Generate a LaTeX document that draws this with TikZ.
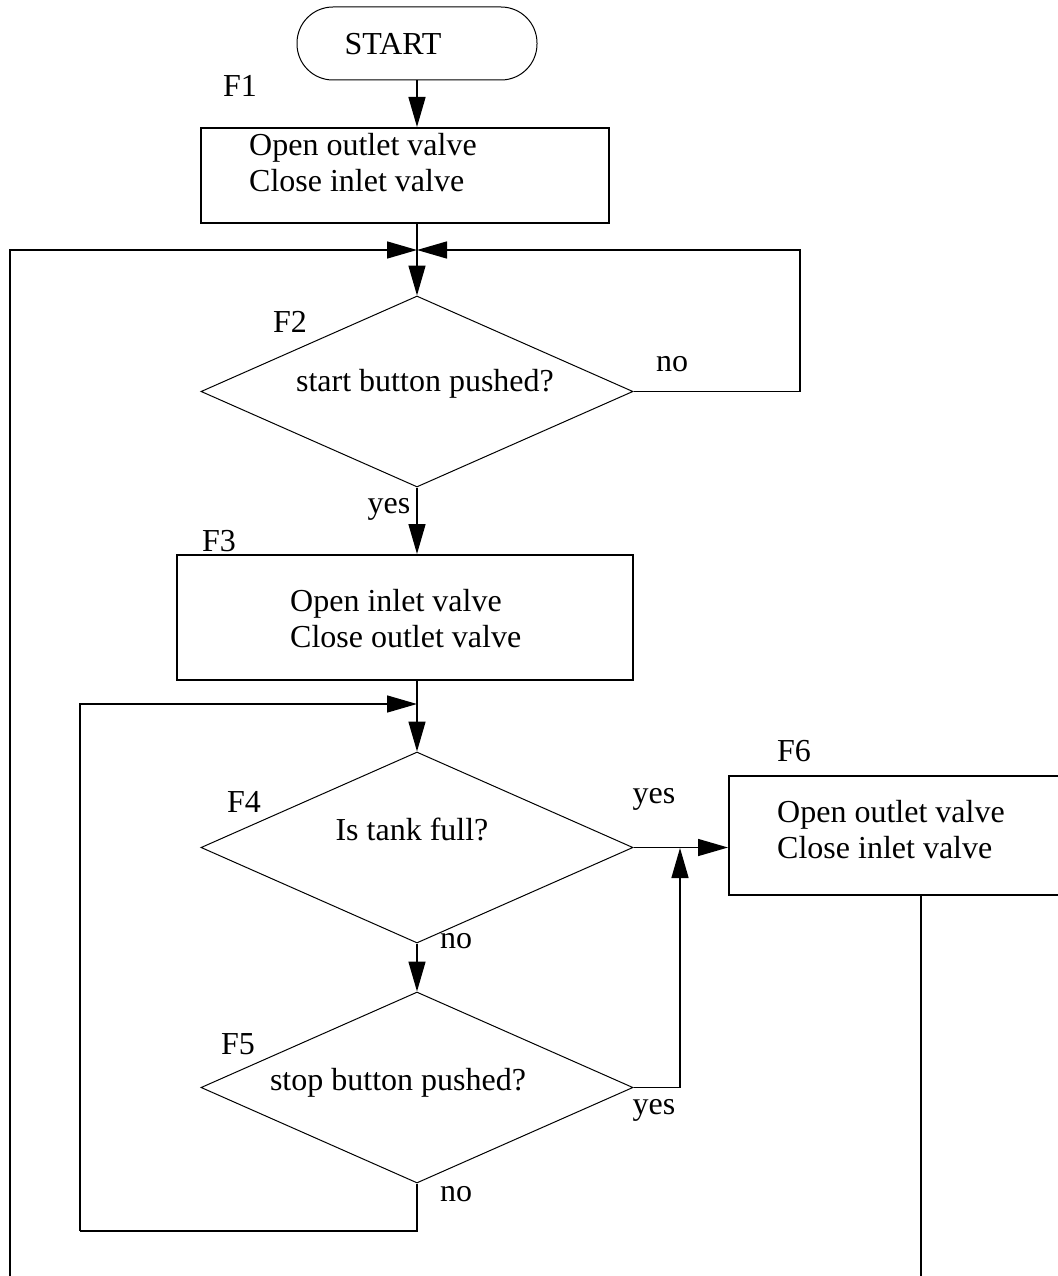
\documentclass[tikz,border=0pt]{standalone}
\usepackage{fontspec}
\setmainfont{Liberation Serif}
\usetikzlibrary{shapes.geometric,arrows.meta}
\begin{document}
\begin{tikzpicture}[x=1pt,y=-1pt,
  every node/.style={font=\fontsize{32}{36}\selectfont,inner sep=0pt},
  box/.style={draw,line width=2pt,rectangle},
  cond/.style={draw,line width=1pt,diamond,minimum width=432pt,minimum height=191pt},
  txt/.style={anchor=base west,align=left},
  tag/.style={anchor=base},
  flow/.style={line width=1.5pt,-{Triangle[length=30pt,width=17pt]}},
  line/.style={line width=1.5pt}]
\useasboundingbox (0,0) rectangle (1057,1276);
% start and F1
\node[draw,line width=1pt,rounded corners=36pt,minimum width=240pt,minimum height=73pt] (start) at (417,43.5) {};
\node[tag] (starttxt) at (393,55) {START};
\node[tag] (t1) at (240,97) {F1};
\node[box,minimum width=408pt,minimum height=95pt] (f1) at (405,175.5) {};
\node[txt] (f1txt) at (249,192) {Open outlet valve\\Close inlet valve};
% F2
\node[cond] (f2) at (417,391.5) {};
\node[tag] (t2) at (290,332) {F2};
\node[tag] (f2txt) at (425,391) {start button pushed?};
\node[tag] (no2) at (672,371) {no};
\node[tag] (yes2) at (389,513) {yes};
% F3
\node[tag] (t3) at (219,551) {F3};
\node[box,minimum width=456pt,minimum height=125pt] (f3) at (405,617.5) {};
\node[txt] (f3txt) at (290,647) {Open inlet valve\\Close outlet valve};
% F4
\node[cond] (f4) at (417,847.5) {};
\node[tag] (t4) at (244,812) {F4};
\node[tag] (f4txt) at (412,840) {Is tank full?};
\node[tag] (yes4) at (654,803) {yes};
\node[tag] (no4) at (456,948) {no};
% F5
\node[cond] (f5) at (417,1087.5) {};
\node[tag] (t5) at (238,1054) {F5};
\node[tag] (f5txt) at (398,1090) {stop button pushed?};
\node[tag] (yes5) at (654,1114) {yes};
\node[tag] (no5) at (456,1201) {no};
% F6
\node[tag] (t6) at (794,761) {F6};
\node[box,minimum width=391pt,minimum height=119pt] (f6) at (924.5,835.5) {};
\node[txt] (f6txt) at (777,858) {Open outlet valve\\Close inlet valve};
% connectors
\coordinate (m1) at (417,250);
\coordinate (r1) at (800,250);
\coordinate (l1) at (10,1276);
\coordinate (m2) at (417,704);
\coordinate (lb) at (80,1231);
\coordinate (j5) at (680,848);
\coordinate (b6) at (921,1276);
\draw[flow] (start.south) -- (start.south |- f1.north);
\draw[flow] (f1.south -| m1) -- (f2.north);
\draw[flow] (l1) |- (m1);
\draw[flow] (f2.east) -| (r1) -- (m1);
\draw[flow] (f2.south) -- (f2.south |- f3.north);
\draw[flow] (f3.south -| m2) -- (f4.north);
\draw[flow] (lb) |- (m2);
\draw[flow] (f4.east) -- (f4.east -| f6.west);
\draw[flow] (f4.south) -- (f5.north);
\draw[flow] (f5.east) -| (j5);
\draw[line] (f5.south) |- (lb);
\draw[line] (b6 |- f6.south) -- (b6);
\end{tikzpicture}
\end{document}
